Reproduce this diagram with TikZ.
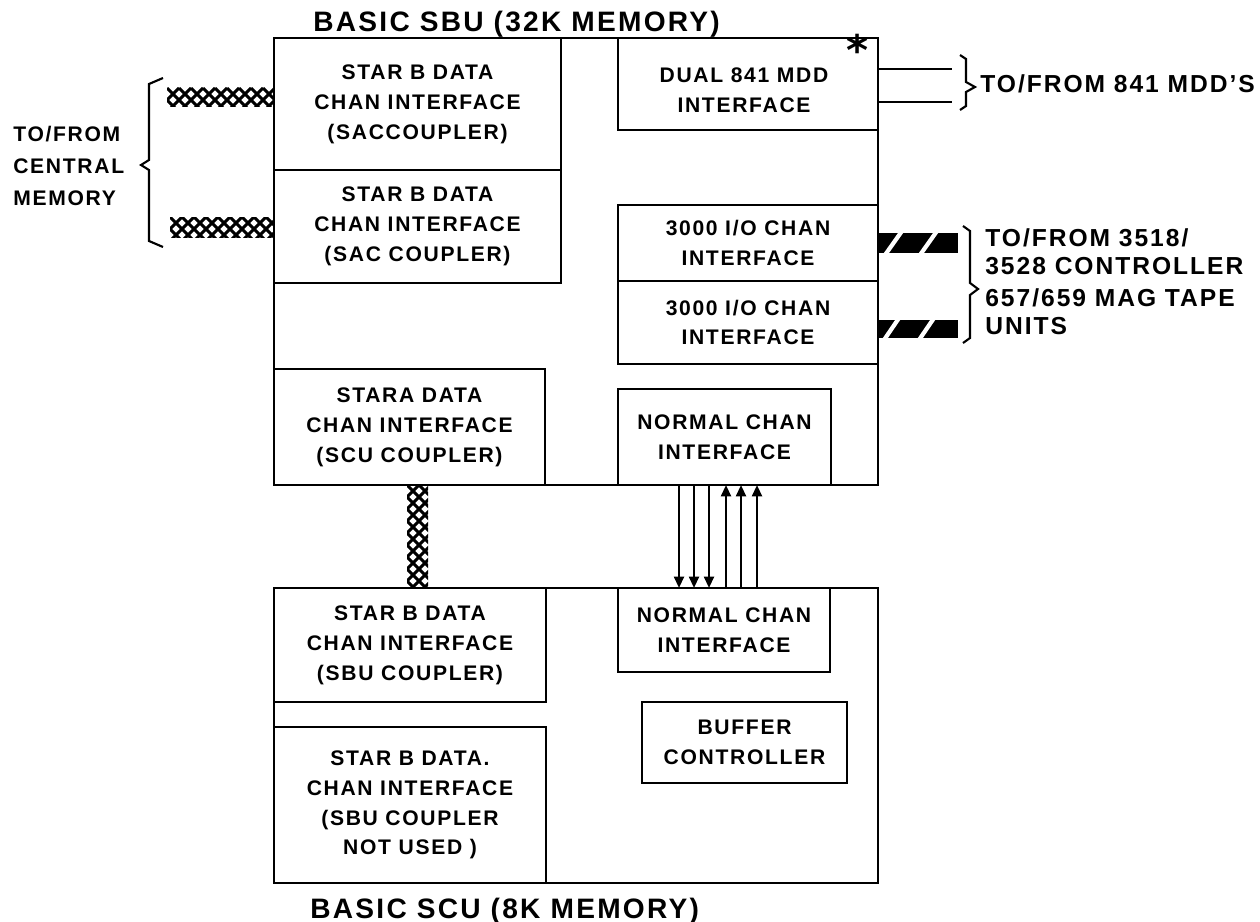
\documentclass[tikz,border=0pt]{standalone}
\usepackage{fontspec}
\setmainfont{Liberation Sans}[LetterSpace=8]
\newfontfamily\symfont{DejaVu Sans}
\usetikzlibrary{arrows.meta}
\begin{document}
\begin{tikzpicture}[
  x=0.02cm, y=-0.02cm,
  font=\bfseries\fontsize{12}{17}\selectfont,
  blk/.style={draw, line width=1.6pt, outer sep=0pt, inner sep=0pt, align=center},
  lbl/.style={inner sep=0pt, align=left, anchor=west},
  side/.style={lbl, font=\bfseries\fontsize{14}{17}\selectfont},
  ttl/.style={inner sep=0pt, anchor=base west, font=\bfseries\fontsize{16}{18}\selectfont},
  arr/.style={-{Triangle[length=6.5pt, width=5.6pt]}, line width=1.4pt},
  wire/.style={line width=1.4pt},
  brc/.style={line width=1.2pt, line join=miter},
  hatchline/.style={line width=1.8pt},
]
\useasboundingbox (0,0) rectangle (1260,922);
% basic SBU
\node[blk, minimum width=12.08cm, minimum height=8.94cm] (sbu) at (576,261.5) {};
\node[ttl] (sbuttl) at (313,32) {BASIC SBU (32K MEMORY)};
\node[blk, minimum width=5.74cm, minimum height=2.64cm] (sbB1) at (417.5,104)
  {STAR B DATA\\CHAN INTERFACE\\(SACCOUPLER)};
\node[blk, minimum width=5.74cm, minimum height=2.26cm] (sbB2) at (417.5,226.5)
  {STAR B DATA\\CHAN INTERFACE\\(SAC COUPLER)};
\node[blk, minimum width=5.42cm, minimum height=2.32cm] (sbA) at (409.5,427)
  {STARA DATA\\CHAN INTERFACE\\(SCU COUPLER)};
\node[blk, minimum width=5.2cm, minimum height=1.84cm] (mdd) at (748,84) {};
\node[inner sep=0pt, align=center] (mddtxt) at (744,90) {DUAL 841 MDD\\INTERFACE};
\node[blk, minimum width=5.2cm, minimum height=1.52cm] (ioA) at (748,243)
  {3000 I/O CHAN\\INTERFACE};
\node[blk, minimum width=5.2cm, minimum height=1.66cm] (ioB) at (748,322.5)
  {3000 I/O CHAN\\INTERFACE};
\node[blk, minimum width=4.26cm, minimum height=1.92cm] (ncA) at (724.5,437)
  {NORMAL CHAN\\INTERFACE};
\node[inner sep=0pt, anchor=base, font=\symfont\bfseries\fontsize{24}{24}\selectfont] (star) at (858,66) {*};
% basic SCU
\node[blk, minimum width=12.08cm, minimum height=5.9cm] (scu) at (576,735.5) {};
\node[ttl] (scuttl) at (310,918) {BASIC SCU (8K MEMORY)};
\node[blk, minimum width=5.44cm, minimum height=2.28cm] (scB1) at (410,645)
  {STAR B DATA\\CHAN INTERFACE\\(SBU COUPLER)};
\node[blk, minimum width=5.44cm, minimum height=3.12cm] (scB2) at (410,805)
  {STAR B DATA.\\CHAN INTERFACE\\(SBU COUPLER\\NOT USED )};
\node[blk, minimum width=4.24cm, minimum height=1.68cm] (ncB) at (724,630)
  {NORMAL CHAN\\INTERFACE};
\node[blk, minimum width=4.1cm, minimum height=1.62cm] (buf) at (744.5,742.5)
  {BUFFER\\CONTROLLER};
% normal channel lines
\foreach \xx in {679,694,709}
  \draw[arr] (\xx,0 |- sbu.south) -- (\xx,0 |- scu.north);
\foreach \xx in {726,741,757}
  \draw[arr] (\xx,0 |- scu.north) -- (\xx,0 |- sbu.south);
% braided cables
\foreach \xa/\ya/\xb/\yb in {167/88/274/107, 170/217/274/237, 407/485/428/587}{
  \begin{scope}
    \clip (\xa,\ya) rectangle (\xb,\yb);
    \foreach \k in {-156,-144,...,168}{
      \draw[hatchline] (\xa+\k,\ya) -- ++(180,180);
      \draw[hatchline] (\xa+\k,\ya) -- ++(-180,180);
    }
  \end{scope}
}
% central memory side
\draw[brc] (163,78) -- (149,84) -- (149,160) -- (141,165) -- (149,170) -- (149,241) -- (163,247);
\node[lbl] (cmem) at (13,166) {TO/FROM\\[1pt]CENTRAL\\[1pt]MEMORY};
% 841 MDD side
\draw[wire] (mdd.east |- 0,69) -- ++(74,0);
\draw[wire] (mdd.east |- 0,102) -- ++(74,0);
\draw[brc] (960,55) -- (966,59) -- (966,82) -- (975,87) -- (966,92) -- (966,106) -- (960,110);
\node[side] (mddlbl) at (980,84) {TO/FROM 841 MDD'S};
% tape side
\fill (ioA.east |- 0,233) rectangle ++(80,20);
\fill (ioB.east |- 0,320) rectangle ++(80,18);
\draw[white, line width=2.4pt] (885,255) -- (902,231) (920,255) -- (937,231);
\draw[white, line width=2.4pt] (884,340) -- (899,318) (919,340) -- (934,318);
\draw[brc] (963,226) -- (970,231) -- (970,283) -- (978,289) -- (970,295) -- (970,338) -- (963,343);
\node[side] (tapelbl) at (985,282)
  {TO/FROM 3518/\\[-1pt]3528 CONTROLLER\\[1pt]657/659 MAG TAPE\\[-1pt]UNITS};
\end{tikzpicture}
\end{document}
